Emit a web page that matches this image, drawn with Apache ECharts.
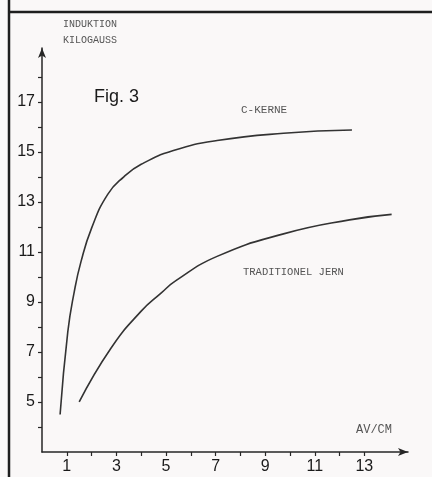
<!DOCTYPE html>
<html>
<head>
<meta charset="utf-8">
<script src="https://cdn.jsdelivr.net/npm/echarts@6/dist/echarts.min.js"></script>
<style>
html,body{margin:0;padding:0;background:#faf8f8;}
#chart{width:432px;height:477px;}
</style>
</head>
<body>
<div id="chart"></div>
<script>
// Data
const cKerneX = [0.73, 1.04, 1.3, 1.57, 2.0, 2.65, 3.3, 4.0, 5.3, 7.06, 9.74, 12.5];
const cKerneY = [4.5, 7.8, 9.4, 10.6, 11.95, 13.3, 14.0, 14.5, 15.05, 15.45, 15.74, 15.87];
const tradX = [1.5, 2.78, 4.0, 4.8, 5.4, 7.06, 9.74, 12.4, 14.1];
const tradY = [5.0, 7.15, 8.63, 9.35, 9.85, 10.82, 11.72, 12.28, 12.5];
const xTickValues = [1,2,3,4,5,6,7,8,9,10,11,12,13];
const xLabelValues = [1,3,5,7,9,11,13];
const yTickValues = [4,5,6,7,8,9,10,11,12,13,14,15,16,17,18];
const yLabelValues = [5,7,9,11,13,15,17];
const titleLines = ['INDUKTION', 'KILOGAUSS'];
const figLabel = 'Fig. 3';
const seriesNames = ['C-KERNE', 'TRADITIONEL JERN'];
const xUnit = 'AV/CM';

const pairs = (xs, ys) => xs.map((x, i) => [x, ys[i]]);
const ink = '#262626';
const mono = '"Liberation Mono", "DejaVu Sans Mono", monospace';
const chart = echarts.init(document.getElementById('chart'));
chart.setOption({
  backgroundColor: '#faf8f8',
  animation: false,
  grid: { left: 42, right: 24, top: 48, bottom: 25, containLabel: false, outerBoundsMode: 'none' },
  xAxis: {
    type: 'value', min: 0, max: 14.76,
    splitLine: { show: false },
    axisLine: { lineStyle: { color: ink, width: 1.5 }, symbol: ['none', 'arrow'], symbolSize: [6, 10] },
    axisTick: { length: 4, lineStyle: { color: ink, width: 1.2 }, customValues: xTickValues },
    axisLabel: { customValues: xLabelValues, margin: 7, color: '#1a1a1a', fontSize: 16,
      fontFamily: '"Liberation Sans", Arial, sans-serif' }
  },
  yAxis: {
    type: 'value', min: 3, max: 19.15,
    splitLine: { show: false },
    axisLine: { lineStyle: { color: ink, width: 1.5 }, symbol: ['none', 'arrow'], symbolSize: [6, 10] },
    axisTick: { length: 4, lineStyle: { color: ink, width: 1.2 }, customValues: yTickValues },
    axisLabel: { customValues: yLabelValues, margin: 7, color: '#1a1a1a', fontSize: 16,
      fontFamily: '"Liberation Sans", Arial, sans-serif' }
  },
  series: [
    { name: seriesNames[0], type: 'line', data: pairs(cKerneX, cKerneY), showSymbol: false,
      smooth: 0.5, lineStyle: { color: '#333', width: 1.6 } },
    { name: seriesNames[1], type: 'line', data: pairs(tradX, tradY), showSymbol: false,
      smooth: 0.5, lineStyle: { color: '#333', width: 1.6 } }
  ],
  graphic: [
    { type: 'line', shape: { x1: 9, y1: 0, x2: 9, y2: 477 }, style: { stroke: '#1e1e1e', lineWidth: 2.5 } },
    { type: 'line', shape: { x1: 8, y1: 12, x2: 432, y2: 12 }, style: { stroke: '#1e1e1e', lineWidth: 2.5 } },
    { type: 'text', left: 63, top: 19, style: { text: titleLines[0], fontFamily: mono, fontSize: 10, fill: '#555' } },
    { type: 'text', left: 63, top: 35, style: { text: titleLines[1], fontFamily: mono, fontSize: 10, fill: '#555' } },
    { type: 'text', left: 94, top: 88, style: { text: figLabel, fontFamily: '"Liberation Sans", Arial, sans-serif', fontSize: 18, fill: '#1a1a1a' } },
    { type: 'text', left: 241, top: 105, style: { text: seriesNames[0], fontFamily: mono, fontSize: 11, fill: '#555' } },
    { type: 'text', left: 243, top: 267, style: { text: seriesNames[1], fontFamily: mono, fontSize: 10.5, fill: '#555' } },
    { type: 'text', left: 356, top: 424, style: { text: xUnit, fontFamily: mono, fontSize: 12, fill: '#555' } }
  ]
});
</script>
</body>
</html>
